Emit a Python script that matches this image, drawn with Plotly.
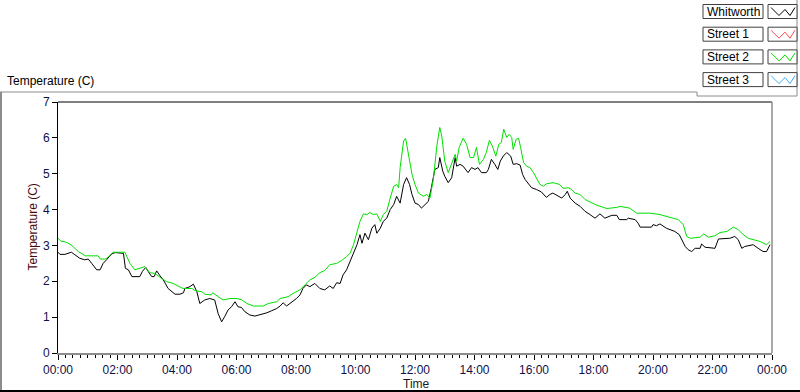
import plotly.graph_objects as go

# ---------------- data ----------------
series_names = ["Whitworth", "Street 1", "Street 2", "Street 3"]
series_colors = ["#000000", "#ff4a4a", "#00e000", "#3ab0ff"]

whitworth_minutes = [0, 4, 14, 21, 27, 34, 44, 54, 61, 68, 78, 85, 91, 98, 108, 115, 128, 132, 136, 142,
                     149, 165, 170, 177, 182, 189, 194, 199, 206, 212, 222, 236, 246, 253, 256, 266, 273, 280, 286, 296,
                     306, 316, 323, 330, 336, 343, 350, 357, 363, 370, 377, 387, 397, 407, 421, 431, 441, 448, 454, 461,
                     468, 474, 481, 488, 494, 501, 508, 518, 528, 538, 548, 555, 562, 569, 575, 582, 589, 596, 603, 609,
                     613, 619, 626, 633, 639, 643, 650, 656, 663, 670, 677, 683, 690, 697, 703, 709, 714, 720, 727, 733,
                     740, 747, 753, 760, 767, 770, 776, 780, 787, 794, 801, 804, 811, 817, 827, 834, 841, 847, 854, 864,
                     868, 874, 881, 887, 892, 898, 905, 913, 918, 925, 932, 937, 942, 949, 955, 965, 975, 985, 992, 998,
                     1006, 1016, 1023, 1027, 1033, 1043, 1053, 1063, 1073, 1083, 1093, 1103, 1117, 1127, 1132, 1147, 1150, 1164, 1170, 1174,
                     1197, 1200, 1207, 1214, 1227, 1244, 1253, 1258, 1265, 1271, 1278, 1285, 1295, 1298, 1305, 1325, 1332, 1355, 1365, 1372,
                     1379, 1385, 1392, 1402, 1412, 1422, 1429, 1436]
whitworth_temp = [2.81, 2.75, 2.75, 2.78, 2.81, 2.74, 2.64, 2.60, 2.62, 2.50, 2.32, 2.32, 2.50, 2.60, 2.76, 2.80, 2.80, 2.78, 2.36, 2.32,
                  2.13, 2.13, 2.27, 2.39, 2.27, 2.13, 2.13, 2.29, 2.15, 2.05, 1.80, 1.64, 1.64, 1.68, 1.80, 1.85, 1.92, 1.71, 1.38, 1.48,
                  1.52, 1.48, 1.10, 0.87, 1.01, 1.20, 1.29, 1.43, 1.29, 1.27, 1.15, 1.06, 1.03, 1.06, 1.12, 1.18, 1.24, 1.31, 1.40, 1.31,
                  1.38, 1.43, 1.52, 1.62, 1.80, 1.90, 1.85, 1.94, 1.80, 1.76, 1.87, 1.80, 1.96, 1.94, 2.18, 2.32, 2.55, 2.83, 3.02, 3.30,
                  3.06, 3.34, 3.16, 3.48, 3.58, 3.34, 3.48, 3.67, 3.76, 4.00, 4.14, 4.37, 4.18, 4.70, 4.89, 4.70, 4.42, 4.18, 4.14, 4.04,
                  4.14, 4.23, 4.61, 5.12, 5.17, 5.45, 5.07, 4.93, 4.75, 4.89, 5.45, 5.21, 5.26, 5.21, 5.03, 5.17, 5.12, 5.17, 5.03, 5.03,
                  5.12, 5.40, 5.26, 5.12, 5.35, 5.49, 5.59, 5.49, 5.26, 5.28, 5.24, 4.98, 4.84, 4.70, 4.61, 4.56, 4.49, 4.34, 4.42, 4.46,
                  4.40, 4.32, 4.42, 4.51, 4.32, 4.18, 4.09, 3.95, 3.86, 3.76, 3.88, 3.76, 3.84, 3.84, 3.72, 3.72, 3.76, 3.72, 3.62, 3.51,
                  3.51, 3.58, 3.55, 3.60, 3.48, 3.39, 3.30, 3.16, 2.97, 2.88, 2.83, 2.92, 2.92, 3.04, 2.95, 2.92, 3.18, 3.20, 3.25, 3.16,
                  2.92, 2.97, 2.99, 3.02, 2.92, 2.83, 2.83, 3.02]

street2_minutes = [0, 6, 14, 24, 34, 41, 55, 81, 85, 95, 101, 111, 135, 139, 145, 155, 175, 185, 195, 209,
                   219, 232, 243, 252, 270, 276, 290, 296, 309, 312, 323, 333, 347, 361, 371, 381, 394, 414, 424, 441,
                   448, 464, 474, 488, 498, 508, 518, 528, 538, 548, 562, 572, 582, 589, 596, 603, 609, 616, 623, 629,
                   636, 643, 650, 656, 663, 670, 677, 683, 687, 690, 697, 701, 707, 714, 720, 727, 737, 744, 750, 757,
                   764, 770, 774, 780, 787, 794, 801, 804, 809, 817, 824, 831, 838, 844, 850, 858, 864, 870, 876, 883,
                   889, 894, 899, 905, 910, 915, 918, 924, 929, 933, 939, 945, 952, 959, 965, 972, 979, 985, 999, 1012,
                   1019, 1029, 1036, 1043, 1053, 1063, 1073, 1087, 1107, 1127, 1133, 1147, 1153, 1167, 1194, 1214, 1234, 1251, 1261, 1268,
                   1275, 1295, 1302, 1312, 1325, 1335, 1349, 1362, 1372, 1382, 1392, 1402, 1416, 1429, 1436]
street2_temp = [3.20, 3.12, 3.10, 3.04, 2.92, 2.83, 2.71, 2.71, 2.62, 2.62, 2.67, 2.81, 2.81, 2.69, 2.50, 2.32, 2.41, 2.24, 2.22, 2.08,
                1.99, 1.94, 1.85, 1.80, 1.80, 1.74, 1.71, 1.64, 1.62, 1.68, 1.57, 1.48, 1.52, 1.52, 1.48, 1.38, 1.31, 1.31, 1.38, 1.43,
                1.52, 1.57, 1.66, 1.76, 1.90, 2.04, 2.11, 2.24, 2.30, 2.46, 2.50, 2.58, 2.69, 2.78, 3.02, 3.39, 3.67, 3.88, 3.86, 3.92,
                3.86, 3.88, 3.67, 3.86, 3.95, 4.32, 4.65, 4.70, 4.61, 5.17, 5.91, 5.99, 5.54, 4.98, 4.70, 4.46, 4.37, 4.42, 4.32, 4.84,
                5.77, 6.29, 6.05, 5.35, 5.03, 5.26, 5.54, 5.35, 5.73, 5.99, 5.82, 5.45, 5.45, 5.73, 5.26, 5.40, 5.60, 5.93, 5.77, 5.49,
                5.82, 5.87, 6.24, 6.01, 6.10, 6.01, 5.68, 5.96, 5.99, 5.73, 5.31, 5.21, 5.17, 5.03, 4.89, 4.70, 4.65, 4.72, 4.75, 4.70,
                4.59, 4.61, 4.56, 4.46, 4.42, 4.28, 4.21, 4.12, 4.03, 4.06, 4.09, 4.06, 4.04, 3.90, 3.90, 3.86, 3.79, 3.72, 3.58, 3.25,
                3.20, 3.23, 3.32, 3.23, 3.27, 3.36, 3.39, 3.51, 3.44, 3.30, 3.20, 3.16, 3.11, 3.02, 3.11]

x_tick_vals = list(range(0, 1441, 120))
x_tick_text = ["00:00", "02:00", "04:00", "06:00", "08:00", "10:00", "12:00",
               "14:00", "16:00", "18:00", "20:00", "22:00", "00:00"]
x_minor_vals = list(range(0, 1441, 15))
y_tick_vals = [0, 1, 2, 3, 4, 5, 6, 7]

chart_title = "Temperature (C)"
y_title = "Temperature (C)"
x_title = "Time"

# ---------------- layout geometry (pixels) ----------------
W, H = 800, 392
PL, PR, PT, PB = 58, 772, 102, 353   # plot area edges


def fx(p):
    return (p - PL) / (PR - PL)


def fy(p):
    return (PB - p) / (PB - PT)


FONT = "Liberation Sans"

fig = go.Figure()
fig.add_trace(go.Scatter(x=whitworth_minutes, y=whitworth_temp, mode="lines",
                         line=dict(color=series_colors[0], width=1), name=series_names[0],
                         showlegend=False, hoverinfo="skip"))
fig.add_trace(go.Scatter(x=street2_minutes, y=street2_temp, mode="lines",
                         line=dict(color=series_colors[2], width=1), name=series_names[2],
                         showlegend=False, hoverinfo="skip"))

shapes = []
annotations = []

# plot-area border: top black, right gray
shapes.append(dict(type="line", xref="paper", yref="paper", x0=0, x1=1, y0=1, y1=1,
                   line=dict(color="black", width=1)))
shapes.append(dict(type="line", xref="paper", yref="paper", x0=1, x1=1, y0=0, y1=1,
                   line=dict(color="#8c8c8c", width=1.5)))

# outer frame
shapes.append(dict(type="line", xref="paper", yref="paper", x0=fx(1), x1=fx(1), y0=fy(92), y1=fy(392),
                   line=dict(color="#8c8c8c", width=2)))
shapes.append(dict(type="line", xref="paper", yref="paper", x0=fx(0), x1=fx(697), y0=fy(92), y1=fy(92),
                   line=dict(color="#8c8c8c", width=1)))
shapes.append(dict(type="line", xref="paper", yref="paper", x0=fx(0), x1=fx(800), y0=fy(391), y1=fy(391),
                   line=dict(color="black", width=2)))
# legend panel frame
shapes.append(dict(type="line", xref="paper", yref="paper", x0=fx(697), x1=fx(697), y0=fy(92), y1=fy(96),
                   line=dict(color="#8c8c8c", width=1)))
shapes.append(dict(type="line", xref="paper", yref="paper", x0=fx(697), x1=fx(797), y0=fy(96), y1=fy(96),
                   line=dict(color="#8c8c8c", width=1)))
shapes.append(dict(type="line", xref="paper", yref="paper", x0=fx(797), x1=fx(797), y0=fy(0), y1=fy(96),
                   line=dict(color="#8c8c8c", width=1)))

# custom LabVIEW-style legend
for i, (name, color) in enumerate(zip(series_names, series_colors)):
    top = 4.5 + i * 22.7
    bot = top + 14
    shapes.append(dict(type="rect", xref="paper", yref="paper",
                       x0=fx(703), x1=fx(763), y0=fy(bot), y1=fy(top),
                       line=dict(color="#404040", width=1), fillcolor="white"))
    shapes.append(dict(type="rect", xref="paper", yref="paper",
                       x0=fx(768), x1=fx(797), y0=fy(bot), y1=fy(top),
                       line=dict(color="#404040", width=1), fillcolor="white"))
    pts = [(771, top + 3), (779, bot - 3), (785, top + 5), (790, bot - 3), (795, top + 3)]
    path = "M " + " L ".join(f"{fx(a):.5f},{fy(b):.5f}" for a, b in pts)
    shapes.append(dict(type="path", xref="paper", yref="paper", path=path,
                       line=dict(color=color, width=1)))
    annotations.append(dict(xref="paper", yref="paper", x=fx(705), y=fy((top + bot) / 2),
                            text=name, showarrow=False, xanchor="left", yanchor="middle",
                            font=dict(family=FONT, size=12, color="black")))

# titles
annotations.append(dict(xref="paper", yref="paper", x=fx(5), y=fy(81), text=chart_title,
                        showarrow=False, xanchor="left", yanchor="middle",
                        font=dict(family=FONT, size=12, color="black")))
annotations.append(dict(xref="paper", yref="paper", x=fx(32), y=0.5, text=y_title, textangle=-90,
                        showarrow=False, xanchor="center", yanchor="middle",
                        font=dict(family=FONT, size=12, color="#4a0808")))
annotations.append(dict(xref="paper", yref="paper", x=fx(416), y=fy(384), text=x_title,
                        showarrow=False, xanchor="center", yanchor="middle",
                        font=dict(family=FONT, size=12, color="#1a1a1a")))

fig.update_layout(
    width=W, height=H, autosize=False,
    margin=dict(l=PL, r=W - PR, t=PT, b=H - PB, pad=0),
    paper_bgcolor="white", plot_bgcolor="white",
    showlegend=False,
    shapes=shapes, annotations=annotations,
    font=dict(family=FONT, size=12, color="black"),
    xaxis=dict(range=[0, 1440], tickmode="array", tickvals=x_tick_vals, ticktext=x_tick_text,
               ticks="outside", ticklen=5, tickcolor="black", tickwidth=1,
               minor=dict(tickmode="array", tickvals=x_minor_vals, ticks="outside", ticklen=3,
                          tickcolor="black", tickwidth=1, showgrid=False),
               showline=True, linecolor="#8c8c8c", linewidth=1.5,
               showgrid=False, zeroline=False, fixedrange=True,
               tickfont=dict(family=FONT, size=12, color="#10104a")),
    yaxis=dict(range=[0, 7], tickmode="array", tickvals=y_tick_vals,
               ticks="outside", ticklen=5, tickcolor="black", tickwidth=1,
               showline=True, linecolor="black", linewidth=1,
               showgrid=False, zeroline=False, fixedrange=True,
               tickfont=dict(family=FONT, size=12, color="#10104a")),
)

fig.write_html("out.html", config={"displayModeBar": False},
               post_script="document.body.style.margin='0';document.body.style.overflow='hidden';")
